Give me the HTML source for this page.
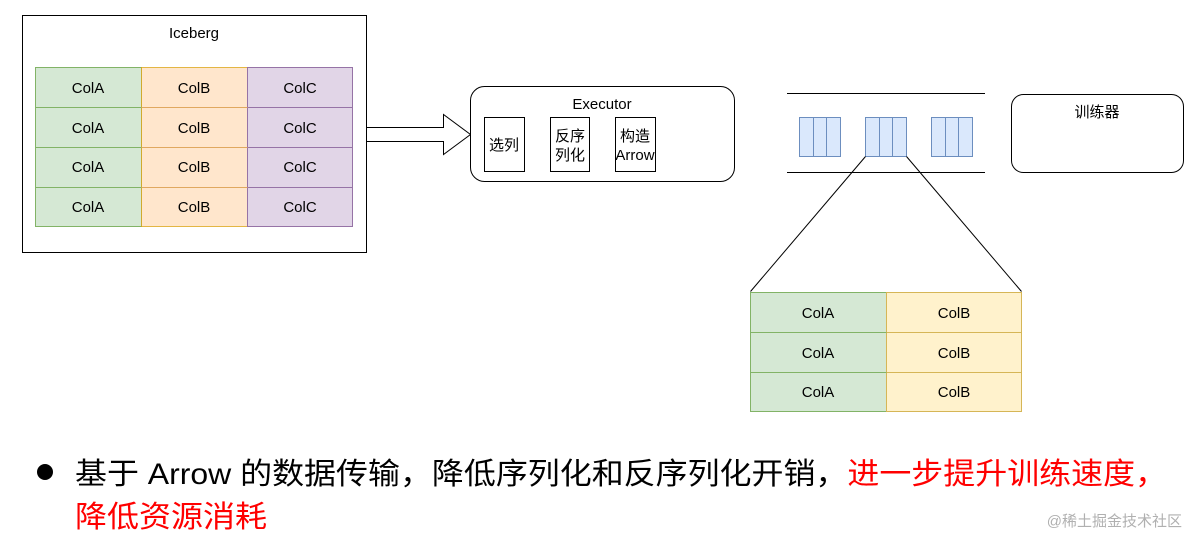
<!DOCTYPE html>
<html><head><meta charset="utf-8"><style>html,body{margin:0;padding:0;background:#fff}svg{display:block}</style></head><body>
<svg width="1200" height="548" viewBox="0 0 1200 548" xmlns="http://www.w3.org/2000/svg" font-family="Liberation Sans, Noto Sans CJK SC, sans-serif">
<rect x="22.5" y="15.5" width="344" height="237" fill="#fff" stroke="#000"/>
<text x="194" y="38" font-size="15" text-anchor="middle">Iceberg</text>
<g font-size="15" text-anchor="middle">
<rect x="35.5" y="67.5" width="106" height="159" fill="#d5e8d4" stroke="#82b366"/>
<rect x="141.5" y="67.5" width="106" height="159" fill="#ffe6cc" stroke="#d79b00" stroke-opacity="0.7"/>
<rect x="247.5" y="67.5" width="105" height="159" fill="#e1d5e7" stroke="#9673a6"/>
<g stroke-width="1">
<line x1="35.5" y1="107.5" x2="141.5" y2="107.5" stroke="#82b366"/><line x1="35.5" y1="147.5" x2="141.5" y2="147.5" stroke="#82b366"/><line x1="35.5" y1="187.5" x2="141.5" y2="187.5" stroke="#82b366"/>
<line x1="141.5" y1="107.5" x2="247.5" y2="107.5" stroke="#e0a860"/><line x1="141.5" y1="147.5" x2="247.5" y2="147.5" stroke="#e0a860"/><line x1="141.5" y1="187.5" x2="247.5" y2="187.5" stroke="#e0a860"/>
<line x1="247.5" y1="107.5" x2="352.5" y2="107.5" stroke="#9673a6"/><line x1="247.5" y1="147.5" x2="352.5" y2="147.5" stroke="#9673a6"/><line x1="247.5" y1="187.5" x2="352.5" y2="187.5" stroke="#9673a6"/>
</g>
<text x="88" y="93">ColA</text><text x="194" y="93">ColB</text><text x="300" y="93">ColC</text>
<text x="88" y="133">ColA</text><text x="194" y="133">ColB</text><text x="300" y="133">ColC</text>
<text x="88" y="172">ColA</text><text x="194" y="172">ColB</text><text x="300" y="172">ColC</text>
<text x="88" y="212">ColA</text><text x="194" y="212">ColB</text><text x="300" y="212">ColC</text>
</g>
<polygon points="366.5,127.5 443.5,127.5 443.5,114.5 470.5,134.5 443.5,154.5 443.5,141.5 366.5,141.5" fill="#fff" stroke="#000"/>
<rect x="470.5" y="86.5" width="264" height="95" rx="14" fill="#fff" stroke="#000"/>
<text x="602" y="109" font-size="15" text-anchor="middle">Executor</text>
<g font-size="15" text-anchor="middle" fill="#000">
<rect x="484.5" y="117.5" width="40" height="54" fill="#fff" stroke="#000"/>
<text x="504" y="150">选列</text>
<rect x="550.5" y="117.5" width="39" height="54" fill="#fff" stroke="#000"/>
<text x="570" y="141">反序</text><text x="570" y="160">列化</text>
<rect x="615.5" y="117.5" width="40" height="54" fill="#fff" stroke="#000"/>
<text x="635" y="141">构造</text><text x="635" y="160">Arrow</text>
</g>
<line x1="787" y1="93.5" x2="985" y2="93.5" stroke="#000"/>
<line x1="787" y1="172.5" x2="985" y2="172.5" stroke="#000"/>
<g fill="#dae8fc" stroke="#6c8ebf">
<rect x="799.5" y="117.5" width="14" height="39"/><rect x="813.5" y="117.5" width="13" height="39"/><rect x="826.5" y="117.5" width="14" height="39"/>
<rect x="865.5" y="117.5" width="14" height="39"/><rect x="879.5" y="117.5" width="13" height="39"/><rect x="892.5" y="117.5" width="14" height="39"/>
<rect x="931.5" y="117.5" width="14" height="39"/><rect x="945.5" y="117.5" width="13" height="39"/><rect x="958.5" y="117.5" width="14" height="39"/>
</g>
<rect x="1011.5" y="94.5" width="172" height="78" rx="12" fill="#fff" stroke="#000"/>
<text x="1097" y="117" font-size="15" text-anchor="middle">训练器</text>
<line x1="865.5" y1="156.5" x2="750.5" y2="291.5" stroke="#000"/>
<line x1="906.5" y1="156.5" x2="1021.5" y2="291.5" stroke="#000"/>
<g font-size="15" text-anchor="middle">
<rect x="750.5" y="292.5" width="136" height="119" fill="#d5e8d4" stroke="#82b366"/>
<rect x="886.5" y="292.5" width="135" height="119" fill="#fff2cc" stroke="#d6b656"/>
<line x1="750.5" y1="332.5" x2="886.5" y2="332.5" stroke="#82b366"/><line x1="750.5" y1="372.5" x2="886.5" y2="372.5" stroke="#82b366"/>
<line x1="886.5" y1="332.5" x2="1021.5" y2="332.5" stroke="#d6b656"/><line x1="886.5" y1="372.5" x2="1021.5" y2="372.5" stroke="#d6b656"/>
<text x="818" y="318">ColA</text><text x="954" y="318">ColB</text>
<text x="818" y="358">ColA</text><text x="954" y="358">ColB</text>
<text x="818" y="397">ColA</text><text x="954" y="397">ColB</text>
</g>
<circle cx="45" cy="472" r="8" fill="#000"/>
<text x="75" y="484" font-size="30" textLength="1092" lengthAdjust="spacingAndGlyphs"><tspan fill="#000">基于 Arrow 的数据传输，降低序列化和反序列化开销，</tspan><tspan fill="#ff0000">进一步提升训练速度，</tspan></text>
<text x="75" y="527" font-size="30" fill="#ff0000" textLength="192" lengthAdjust="spacingAndGlyphs">降低资源消耗</text>
<text x="1182" y="526" font-size="15" fill="#b0b0b0" text-anchor="end">@稀土掘金技术社区</text>
</svg>
</body></html>
